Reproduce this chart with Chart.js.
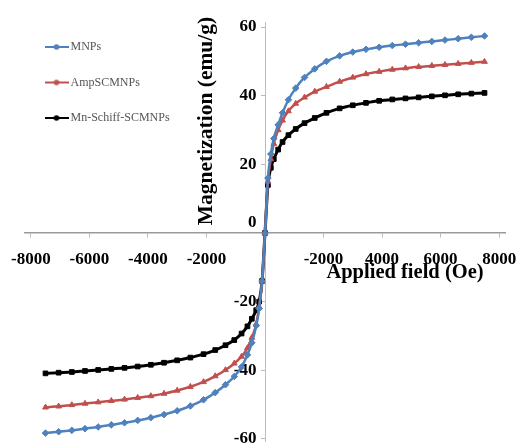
<!DOCTYPE html>
<html>
<head>
<meta charset="utf-8">
<script src="https://cdn.jsdelivr.net/npm/chart.js@4/dist/chart.umd.min.js"></script>
<style>
  body { margin: 0; background: #fff; }
  canvas { display: block; }
</style>
</head>
<body>
<canvas id="hysteresisChart" width="524" height="446"></canvas>
<script>
// applied field (Oe)
const fieldOe = [-7500, -7050, -6600, -6150, -5700, -5250, -4800, -4350, -3900, -3450, -3000, -2550, -2100, -1700, -1350, -1050, -800, -600, -450, -300, -200, -100, 0,
  100, 200, 300, 450, 600, 800, 1050, 1350, 1700, 2100, 2550, 3000, 3450, 3900, 4350, 4800, 5250, 5700, 6150, 6600, 7050, 7500];

// magnetization (emu/g)
const mnps = [-58.3, -57.9, -57.5, -57.0, -56.5, -55.9, -55.3, -54.6, -53.8, -52.9, -51.8, -50.4, -48.6, -46.5, -44.2, -41.8, -39.0, -35.5, -32.0, -27.0, -22.0, -14.0, 0,
  16, 23, 27.5, 31.5, 35, 38.8, 42.2, 45.3, 47.8, 50.0, 51.6, 52.7, 53.5, 54.1, 54.6, 55.0, 55.4, 55.8, 56.2, 56.6, 57.0, 57.4];
const ampScmnps = [-50.8, -50.5, -50.1, -49.7, -49.3, -48.9, -48.5, -48.0, -47.5, -46.8, -45.9, -44.8, -43.4, -41.7, -39.9, -38.0, -36.0, -33.5, -30.5, -26.5, -21.5, -14.0, 0,
  15, 21.5, 26, 30, 32.8, 35.5, 37.7, 39.5, 41.2, 42.6, 44.1, 45.3, 46.3, 47.0, 47.6, 48.0, 48.4, 48.7, 49.0, 49.3, 49.6, 49.9];
const mnSchiff = [-40.9, -40.7, -40.5, -40.2, -39.9, -39.6, -39.3, -38.9, -38.4, -37.8, -37.1, -36.3, -35.3, -34.1, -32.7, -31.2, -29.3, -27.2, -25.0, -22.5, -20.0, -14.0, 0,
  14, 19, 21.5, 24.3, 26.5, 28.5, 30.3, 32.0, 33.5, 35.0, 36.3, 37.2, 37.9, 38.5, 38.9, 39.2, 39.5, 39.8, 40.1, 40.4, 40.6, 40.8];

const seriesNames = ['MNPs', 'AmpSCMNPs', 'Mn-Schiff-SCMNPs'];
const xTickValues = [-8000, -6000, -4000, -2000, 0, 2000, 4000, 6000, 8000];
const xTickLabels = ['-8000', '-6000', '-4000', '-2000', '', '-2000', '4000', '6000', '8000'];
const yTickValues = [-60, -40, -20, 0, 20, 40, 60];
const yTickLabels = ['-60', '-40', '-20', '0', '20', '40', '60'];
const xTitle = 'Applied field (Oe)';
const yTitle = 'Magnetization (emu/g)';

document.addEventListener('DOMContentLoaded', function () {
  function points(values) {
    return fieldOe.map(function (x, i) { return { x: x, y: values[i] }; });
  }

  // little line + dot icon for the legend, like the Excel one
  function legendIcon(color) {
    const c = document.createElement('canvas');
    c.width = 24;
    c.height = 8;
    const g = c.getContext('2d');
    g.strokeStyle = color;
    g.lineWidth = 2;
    g.beginPath();
    g.moveTo(0, 4);
    g.lineTo(24, 4);
    g.stroke();
    g.fillStyle = color;
    g.beginPath();
    g.arc(12, 4, 2.8, 0, Math.PI * 2);
    g.fill();
    return c;
  }

  const colors = ['#4F81BD', '#C0504D', '#000000'];
  const markers = ['rectRot', 'triangle', 'rect'];
  const allSeries = [mnps, ampScmnps, mnSchiff];

  const datasets = allSeries.map(function (vals, i) {
    return {
      label: seriesNames[i],
      data: points(vals),
      showLine: true,
      borderColor: colors[i],
      backgroundColor: colors[i],
      borderWidth: i === 2 ? 3 : 2.5,
      pointStyle: markers[i],
      pointRadius: 3.3,
      pointBorderWidth: 1,
      cubicInterpolationMode: 'monotone'
    };
  });

  const axisTitles = {
    id: 'axisTitles',
    afterDraw: function (chart) {
      const c = chart.ctx;
      c.save();
      c.fillStyle = '#000';
      c.textAlign = 'center';
      c.textBaseline = 'middle';
      c.font = 'bold 20.5px "Liberation Serif"';
      c.fillText(xTitle, 405, 273);
      c.font = 'bold 21.5px "Liberation Serif"';
      c.translate(206, 121);
      c.rotate(-Math.PI / 2);
      c.fillText(yTitle, 0, 0);
      c.restore();
    }
  };

  const ctx = document.getElementById('hysteresisChart').getContext('2d');
  const hysteresisChart = new Chart(ctx, {
    type: 'scatter',
    data: { datasets: datasets },
    plugins: [axisTitles],
    options: {
      responsive: false,
      animation: false,
      layout: { padding: { left: 25, right: 19, top: 22, bottom: 0 } },
      plugins: {
        tooltip: { enabled: false },
        legend: {
          position: 'chartArea',
          align: 'start',
          title: { display: true, text: ' ', font: { size: 10 }, padding: { top: 0, bottom: 5.5 } },
          labels: {
            usePointStyle: true,
            pointStyleWidth: 16,
            padding: 23.5,
            color: '#555',
            font: { family: 'Liberation Serif', size: 12 },
            generateLabels: function (chart) {
              return chart.data.datasets.map(function (ds, i) {
                return {
                  text: ds.label,
                  pointStyle: legendIcon(colors[i]),
                  fillStyle: colors[i],
                  strokeStyle: colors[i],
                  lineWidth: 0,
                  fontColor: '#555',
                  datasetIndex: i
                };
              });
            }
          }
        }
      },
      scales: {
        x: {
          type: 'linear',
          min: -8200,
          max: 8200,
          position: { y: 0 },
          afterFit: function (s) {
            s.height = 0;
            s.paddingLeft = 0;
            s.paddingRight = 0;
          },
          afterBuildTicks: function (s) {
            s.ticks = xTickValues.map(function (v) { return { value: v }; });
          },
          border: { color: '#9a9a9a', width: 1.5 },
          grid: { drawOnChartArea: false, color: '#bbb', tickLength: 4 },
          ticks: {
            padding: 12,
            maxRotation: 0,
            autoSkip: false,
            color: '#000',
            font: { family: 'Liberation Serif', size: 17, weight: 'bold' },
            callback: function (v) { return xTickLabels[xTickValues.indexOf(v)]; }
          }
        },
        y: {
          type: 'linear',
          min: -60.6,
          max: 61.46,
          position: { x: 0 },
          afterFit: function (s) {
            s.width = 0;
            s.paddingTop = 0;
            s.paddingBottom = 0;
          },
          afterBuildTicks: function (s) {
            s.ticks = yTickValues.map(function (v) { return { value: v }; });
          },
          border: { color: '#bdbdbd', width: 1 },
          grid: { drawOnChartArea: false, color: '#bbb', tickLength: 4 },
          ticks: {
            autoSkip: false,
            color: '#000',
            font: { family: 'Liberation Serif', size: 17, weight: 'bold' },
            callback: function (v) {
              // trailing spaces keep the label off the axis line
              const label = yTickLabels[yTickValues.indexOf(v)] + '  ';
              // the zero label sits above the x axis in the original
              return v === 0 ? [label, ''] : label;
            }
          }
        }
      }
    }
  });
});
</script>
</body>
</html>
